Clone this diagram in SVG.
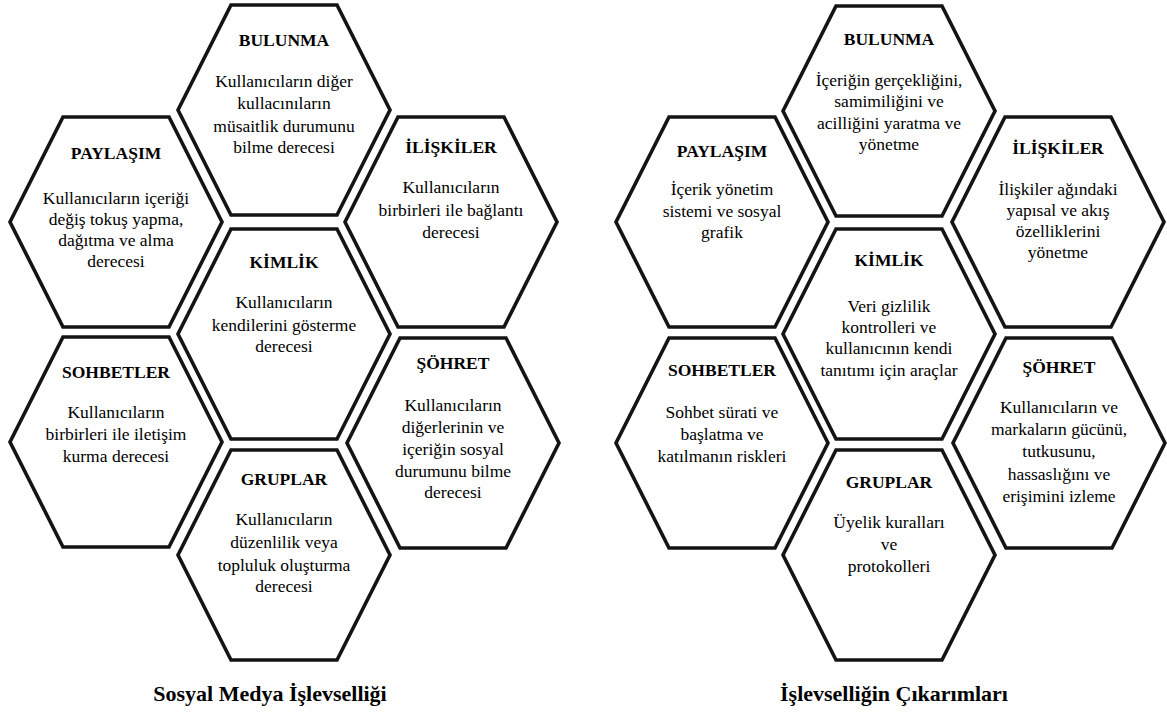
<svg xmlns="http://www.w3.org/2000/svg" width="1167" height="713" viewBox="0 0 1167 713">
  <style>
    .hex { fill: #ffffff; stroke: #141414; stroke-width: 3.6; stroke-linejoin: miter; }
    .lbl { fill: #000000; text-anchor: middle; }
    .h { font-size: 17.5px; font-weight: bold; }
    .b { font-size: 17.5px; }
    .title { font-size: 22px; font-weight: bold; }
  </style>
  <defs>
    <!-- flat-topped hexagon cell, centred on (0,0) -->
    <polygon id="hexShape" class="hex" points="-53,-105 53,-105 106,0 53,105 -53,105 -106,0"/>
  </defs>
  <rect width="1167" height="713" fill="#ffffff"/>

  <g font-family="Liberation Serif, serif">
    <!-- Left honeycomb: social media functionality -->
    <g id="left-bulunma">
      <use href="#hexShape" x="284" y="110"/>
      <text class="lbl h" x="284" y="46">BULUNMA</text>
      <text class="lbl b" x="284" y="87">Kullanıcıların diğer</text>
      <text class="lbl b" x="284" y="109">kullacınıların</text>
      <text class="lbl b" x="284" y="132">müsaitlik durumunu</text>
      <text class="lbl b" x="284" y="153">bilme derecesi</text>
    </g>
    <g id="left-paylasim">
      <use href="#hexShape" x="116" y="222"/>
      <text class="lbl h" x="116" y="159">PAYLAŞIM</text>
      <text class="lbl b" x="116" y="204">Kullanıcıların içeriği</text>
      <text class="lbl b" x="116" y="225">değiş tokuş yapma,</text>
      <text class="lbl b" x="116" y="246">dağıtma ve alma</text>
      <text class="lbl b" x="116" y="267">derecesi</text>
    </g>
    <g id="left-iliskiler">
      <use href="#hexShape" x="451" y="222"/>
      <text class="lbl h" x="451" y="153">İLİŞKİLER</text>
      <text class="lbl b" x="451" y="193">Kullanıcıların</text>
      <text class="lbl b" x="451" y="216">birbirleri ile bağlantı</text>
      <text class="lbl b" x="451" y="238">derecesi</text>
    </g>
    <g id="left-kimlik">
      <use href="#hexShape" x="284" y="334"/>
      <text class="lbl h" x="284" y="268">KİMLİK</text>
      <text class="lbl b" x="284" y="308">Kullanıcıların</text>
      <text class="lbl b" x="284" y="331">kendilerini gösterme</text>
      <text class="lbl b" x="284" y="352">derecesi</text>
    </g>
    <g id="left-sohbetler">
      <use href="#hexShape" x="116" y="442"/>
      <text class="lbl h" x="116" y="378">SOHBETLER</text>
      <text class="lbl b" x="116" y="418">Kullanıcıların</text>
      <text class="lbl b" x="116" y="440">birbirleri ile iletişim</text>
      <text class="lbl b" x="116" y="462">kurma derecesi</text>
    </g>
    <g id="left-sohret">
      <use href="#hexShape" x="453" y="443"/>
      <text class="lbl h" x="453" y="369">ŞÖHRET</text>
      <text class="lbl b" x="453" y="411">Kullanıcıların</text>
      <text class="lbl b" x="453" y="433">diğerlerinin ve</text>
      <text class="lbl b" x="453" y="455">içeriğin sosyal</text>
      <text class="lbl b" x="453" y="477">durumunu bilme</text>
      <text class="lbl b" x="453" y="498">derecesi</text>
    </g>
    <g id="left-gruplar">
      <use href="#hexShape" x="284" y="555"/>
      <text class="lbl h" x="284" y="485">GRUPLAR</text>
      <text class="lbl b" x="284" y="525">Kullanıcıların</text>
      <text class="lbl b" x="284" y="548">düzenlilik veya</text>
      <text class="lbl b" x="284" y="571">topluluk oluşturma</text>
      <text class="lbl b" x="284" y="592">derecesi</text>
    </g>
    <text id="left-title" class="lbl title" x="270" y="701">Sosyal Medya İşlevselliği</text>

    <!-- Right honeycomb: implications of the functionality -->
    <g id="right-bulunma">
      <use href="#hexShape" x="889" y="111"/>
      <text class="lbl h" x="889" y="45">BULUNMA</text>
      <text class="lbl b" x="889" y="86">İçeriğin gerçekliğini,</text>
      <text class="lbl b" x="889" y="107">samimiliğini ve</text>
      <text class="lbl b" x="889" y="129">acilliğini yaratma ve</text>
      <text class="lbl b" x="889" y="150">yönetme</text>
    </g>
    <g id="right-paylasim">
      <use href="#hexShape" x="722" y="222"/>
      <text class="lbl h" x="722" y="157">PAYLAŞIM</text>
      <text class="lbl b" x="722" y="195">İçerik yönetim</text>
      <text class="lbl b" x="722" y="217">sistemi ve sosyal</text>
      <text class="lbl b" x="722" y="238">grafik</text>
    </g>
    <g id="right-iliskiler">
      <use href="#hexShape" x="1058" y="222"/>
      <text class="lbl h" x="1058" y="154">İLİŞKİLER</text>
      <text class="lbl b" x="1058" y="195">İlişkiler ağındaki</text>
      <text class="lbl b" x="1058" y="216">yapısal ve akış</text>
      <text class="lbl b" x="1058" y="237">özelliklerini</text>
      <text class="lbl b" x="1058" y="258">yönetme</text>
    </g>
    <g id="right-kimlik">
      <use href="#hexShape" x="889" y="334"/>
      <text class="lbl h" x="889" y="266">KİMLİK</text>
      <text class="lbl b" x="889" y="312">Veri gizlilik</text>
      <text class="lbl b" x="889" y="333">kontrolleri ve</text>
      <text class="lbl b" x="889" y="354">kullanıcının kendi</text>
      <text class="lbl b" x="889" y="376">tanıtımı için araçlar</text>
    </g>
    <g id="right-sohbetler">
      <use href="#hexShape" x="722" y="443"/>
      <text class="lbl h" x="722" y="376">SOHBETLER</text>
      <text class="lbl b" x="722" y="418">Sohbet sürati ve</text>
      <text class="lbl b" x="722" y="440">başlatma ve</text>
      <text class="lbl b" x="722" y="462">katılmanın riskleri</text>
    </g>
    <g id="right-sohret">
      <use href="#hexShape" x="1059" y="443"/>
      <text class="lbl h" x="1059" y="373">ŞÖHRET</text>
      <text class="lbl b" x="1059" y="413">Kullanıcıların ve</text>
      <text class="lbl b" x="1059" y="435">markaların gücünü,</text>
      <text class="lbl b" x="1059" y="457">tutkusunu,</text>
      <text class="lbl b" x="1059" y="480">hassaslığını ve</text>
      <text class="lbl b" x="1059" y="502">erişimini izleme</text>
    </g>
    <g id="right-gruplar">
      <use href="#hexShape" x="889" y="555"/>
      <text class="lbl h" x="889" y="488">GRUPLAR</text>
      <text class="lbl b" x="889" y="528">Üyelik kuralları</text>
      <text class="lbl b" x="889" y="550">ve</text>
      <text class="lbl b" x="889" y="572">protokolleri</text>
    </g>
    <text id="right-title" class="lbl title" x="894" y="701">İşlevselliğin Çıkarımları</text>
  </g>
</svg>
